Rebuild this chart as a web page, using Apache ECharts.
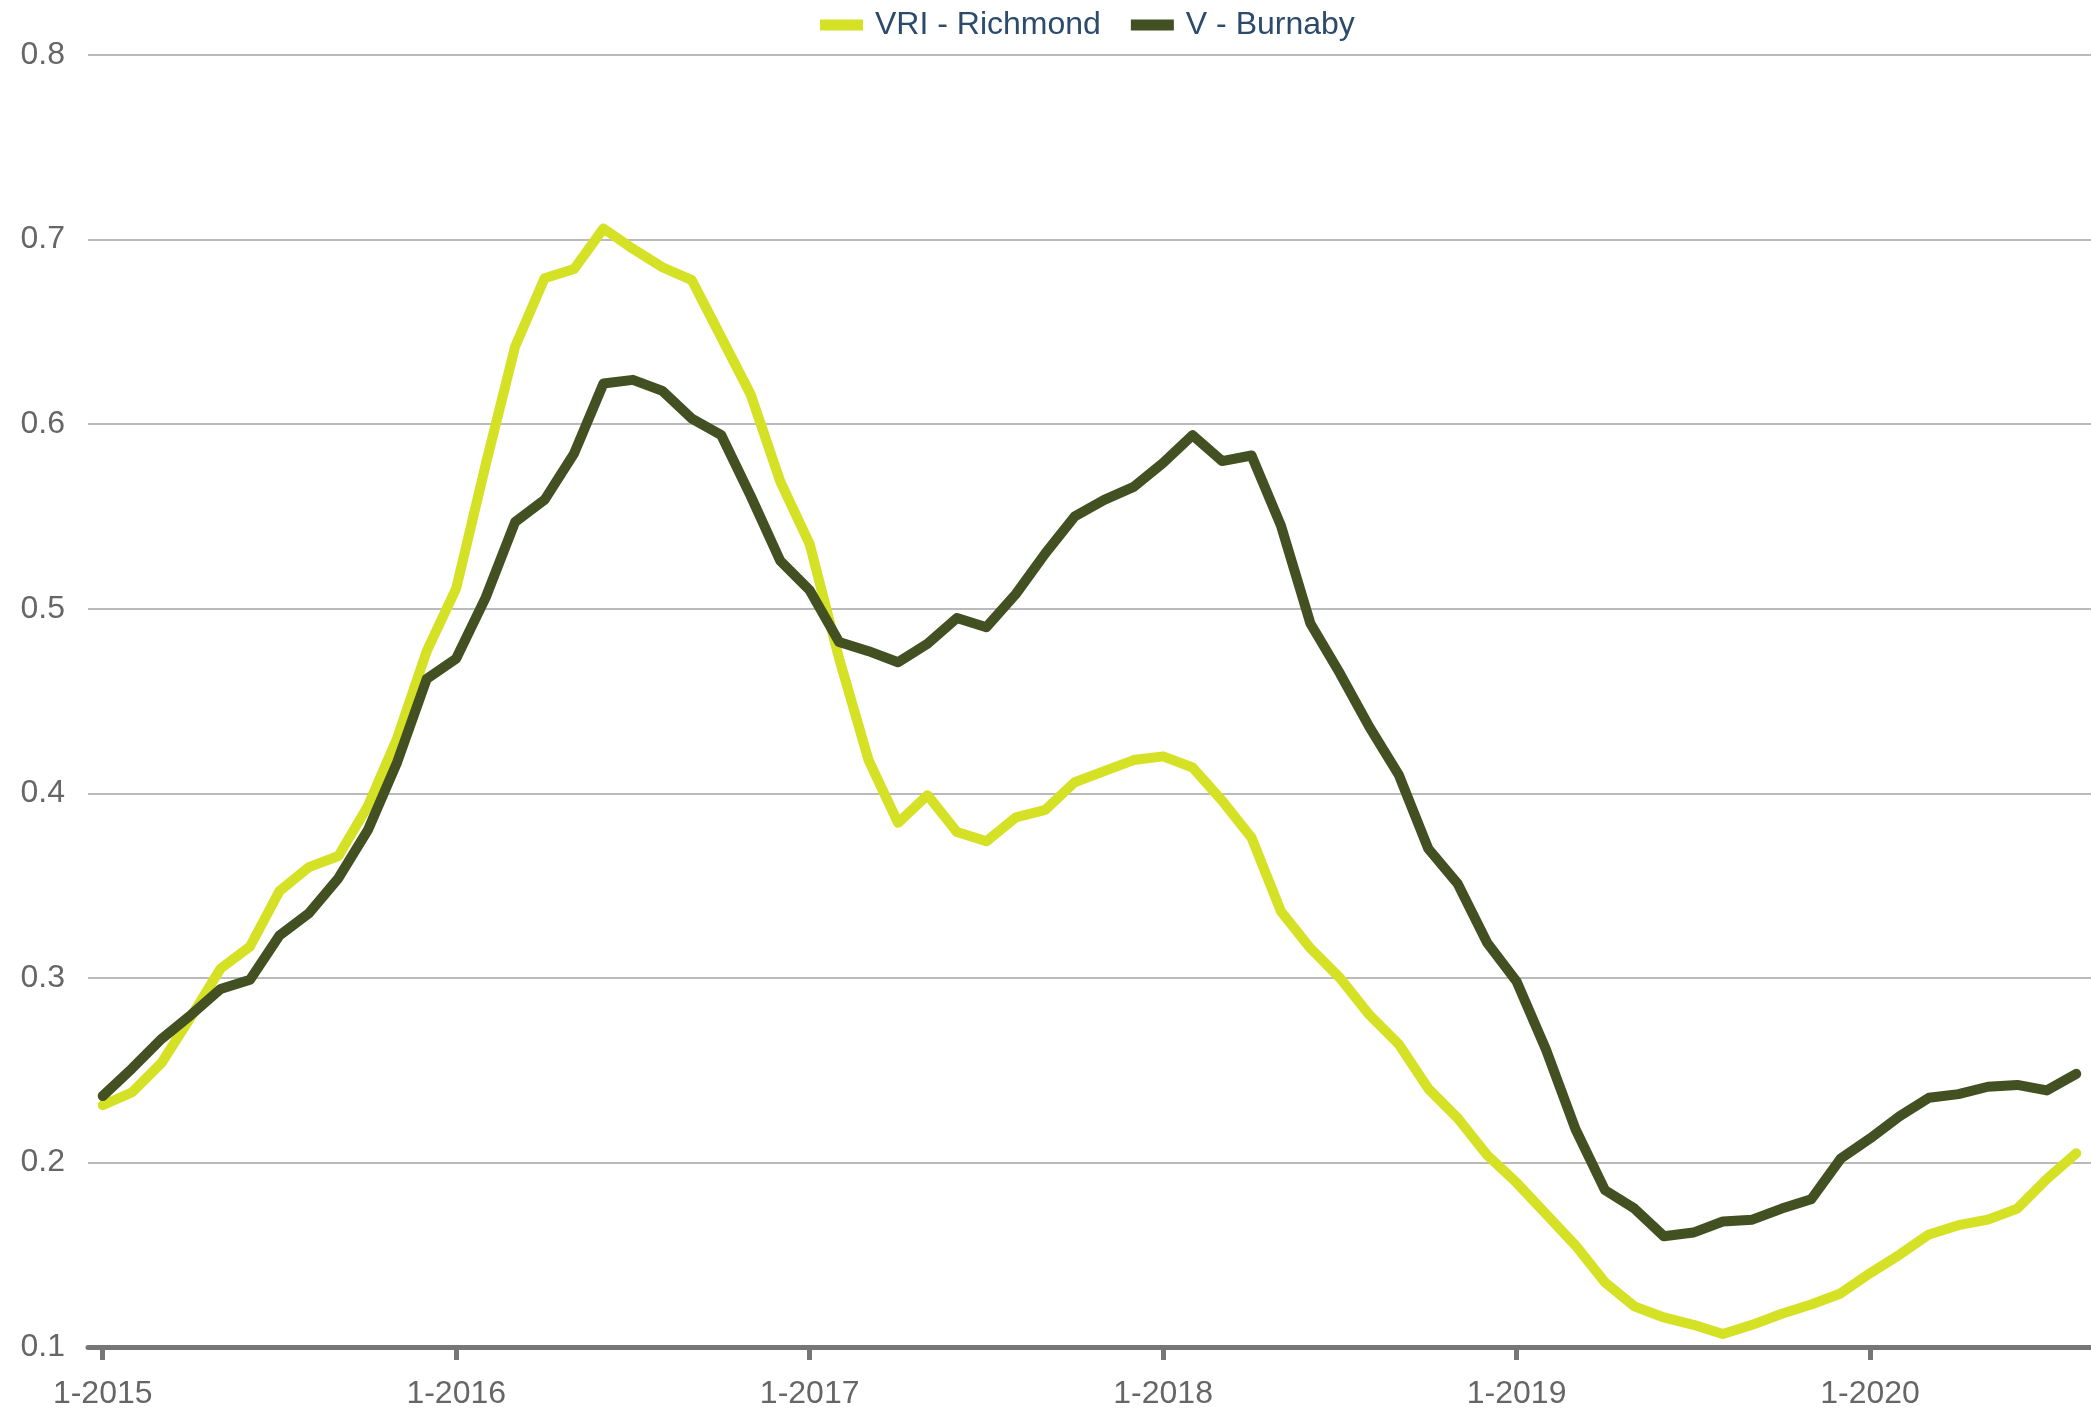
<!DOCTYPE html>
<html>
<head>
<meta charset="utf-8">
<script src="https://cdn.jsdelivr.net/npm/echarts@6/dist/echarts.min.js"></script>
<style>
html,body{margin:0;padding:0;background:#fff;}
#chart{width:2091px;height:1410px;}
</style>
</head>
<body>
<div id="chart"></div>
<script>
// Monthly categories Jan 2015 - Aug 2020
const years = [2015, 2016, 2017, 2018, 2019, 2020];
const categories = [];
years.forEach(function (y) {
  for (let m = 1; m <= 12; m++) {
    if (y === 2020 && m > 8) break;
    categories.push(m + '-' + y);
  }
});

const seriesNames = ['VRI - Richmond', 'V - Burnaby'];

const richmond = [
  0.231, 0.238, 0.254, 0.279, 0.305, 0.317, 0.347, 0.360, 0.366, 0.393, 0.430, 0.477,
  0.511, 0.578, 0.642, 0.679, 0.684, 0.706, 0.695, 0.685, 0.678, 0.647, 0.616, 0.569,
  0.535, 0.473, 0.418, 0.384, 0.399, 0.379, 0.374, 0.387, 0.391, 0.406, 0.412, 0.418,
  0.420, 0.414, 0.396, 0.376, 0.336, 0.316, 0.300, 0.280, 0.264, 0.240, 0.224, 0.204,
  0.189, 0.172, 0.155, 0.135, 0.122, 0.116, 0.112, 0.107, 0.112, 0.118, 0.123, 0.129,
  0.140, 0.150, 0.161, 0.166, 0.169, 0.175, 0.191, 0.205
];

const burnaby = [
  0.236, 0.251, 0.267, 0.280, 0.294, 0.299, 0.323, 0.335, 0.354, 0.380, 0.417, 0.462,
  0.473, 0.506, 0.547, 0.559, 0.584, 0.622, 0.624, 0.618, 0.603, 0.594, 0.561, 0.526,
  0.510, 0.482, 0.477, 0.471, 0.481, 0.495, 0.490, 0.508, 0.530, 0.550, 0.559, 0.566,
  0.579, 0.594, 0.580, 0.583, 0.545, 0.492, 0.465, 0.436, 0.410, 0.370, 0.351, 0.319,
  0.298, 0.261, 0.218, 0.185, 0.175, 0.160, 0.162, 0.168, 0.169, 0.175, 0.180, 0.202,
  0.213, 0.225, 0.235, 0.237, 0.241, 0.242, 0.239, 0.248
];

const yTicks = { min: 0.1, max: 0.8, interval: 0.1 };

const font = 'Liberation Sans, Arial, sans-serif';
const chart = echarts.init(document.getElementById('chart'), null, { renderer: 'canvas' });
chart.setOption({
  animation: false,
  backgroundColor: '#ffffff',
  legend: {
    left: 815,
    top: 4,
    itemWidth: 43,
    itemHeight: 11,
    itemGap: 30,
    icon: 'rect',
    textStyle: { fontFamily: font, fontSize: 32, color: '#2c4a6b', padding: [0, 0, 0, 7] },
    data: seriesNames
  },
  grid: { left: 88, right: 0, top: 55, bottom: 62, containLabel: false },
  xAxis: {
    type: 'category',
    data: categories,
    boundaryGap: true,
    axisLine: { show: true, lineStyle: { color: '#767676', width: 5 } },
    axisTick: { show: true, alignWithLabel: true, interval: 11, length: 13, lineStyle: { color: '#767676', width: 5 } },
    axisLabel: { interval: 11, fontFamily: font, fontSize: 32, color: '#666666', margin: 31 },
    splitLine: { show: false }
  },
  yAxis: {
    type: 'value',
    min: yTicks.min,
    max: yTicks.max,
    interval: yTicks.interval,
    axisLine: { show: false },
    axisTick: { show: false },
    axisLabel: { fontFamily: font, fontSize: 32, color: '#666666', margin: 23,
      formatter: function (v) { return (Math.round(v * 10) / 10).toString(); } },
    splitLine: { show: true, lineStyle: { color: '#bababa', width: 2 } }
  },
  series: [
    {
      name: seriesNames[0], type: 'line', data: richmond, showSymbol: false, symbol: 'none',
      itemStyle: { color: '#d4e125' },
      lineStyle: { color: '#d4e125', width: 10, cap: 'round', join: 'round' }
    },
    {
      name: seriesNames[1], type: 'line', data: burnaby, showSymbol: false, symbol: 'none',
      itemStyle: { color: '#425022' },
      lineStyle: { color: '#425022', width: 10, cap: 'round', join: 'round' }
    }
  ]
});
</script>
</body>
</html>
